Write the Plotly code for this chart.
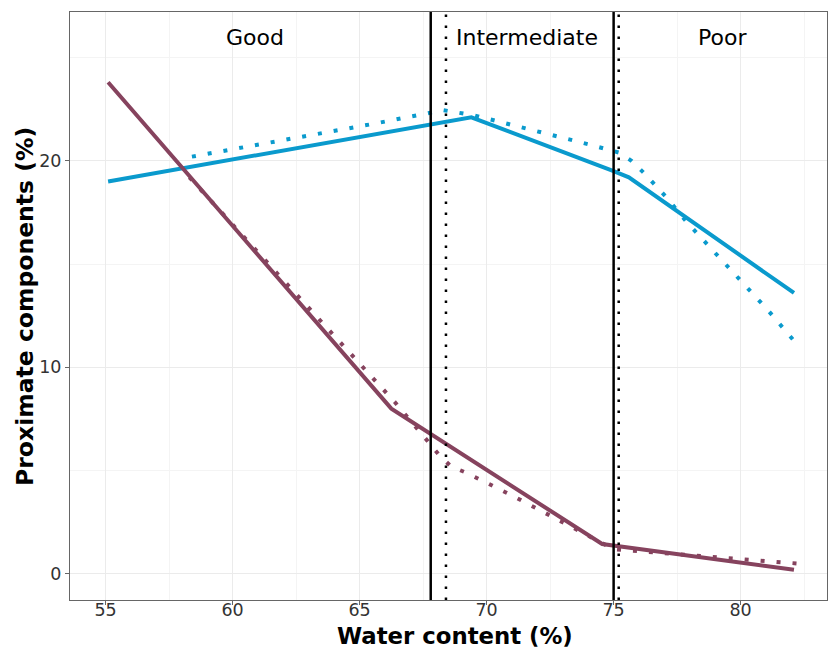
import plotly.graph_objects as go

# --- data ---
blue_solid_x = [55.1, 69.4, 75.0, 75.6, 82.1]
blue_solid_y = [19.0, 22.1, 19.5, 19.2, 13.6]

blue_dot_x = [58.4, 65.6, 68.3, 69.5, 74.0, 75.2, 75.7, 76.2, 77.1, 77.9, 78.8, 79.7, 81.05, 82.3]
blue_dot_y = [20.2, 21.8, 22.45, 22.2, 20.8, 20.4, 20.0, 19.4, 18.2, 17.0, 15.8, 14.6, 12.8, 11.0]

maroon_solid_x = [55.1, 66.25, 74.55, 82.1]
maroon_solid_y = [23.8, 8.0, 1.45, 0.2]

maroon_dot_x = [58.3, 66.4, 67.7, 68.1, 68.6, 69.2, 71.0, 72.7, 73.9, 75.0, 82.3]
maroon_dot_y = [19.2, 8.3, 6.4, 5.8, 5.2, 4.9, 3.8, 2.7, 1.9, 1.2, 0.5]

solid_vlines = [67.8, 75.0]
dotted_vlines = [68.4, 75.2]

zone_labels = ["Good", "Intermediate", "Poor"]
zone_label_x = [60.9, 71.6, 79.3]
zone_label_y = 25.95

x_ticks = [55, 60, 65, 70, 75, 80]
y_ticks = [0, 10, 20]

x_title = "Water content (%)"
y_title = "Proximate components (%)"

BLUE = "#0A9ACD"
MAROON = "#86435E"
FONT = "DejaVu Sans"

fig = go.Figure()

fig.add_trace(go.Scatter(x=blue_dot_x, y=blue_dot_y, mode="lines",
                         line=dict(color=BLUE, width=4, dash="4px,12px"),
                         showlegend=False, hoverinfo="skip"))
fig.add_trace(go.Scatter(x=maroon_dot_x, y=maroon_dot_y, mode="lines",
                         line=dict(color=MAROON, width=4, dash="4px,12px"),
                         showlegend=False, hoverinfo="skip"))
fig.add_trace(go.Scatter(x=blue_solid_x, y=blue_solid_y, mode="lines",
                         line=dict(color=BLUE, width=4),
                         showlegend=False))
fig.add_trace(go.Scatter(x=maroon_solid_x, y=maroon_solid_y, mode="lines",
                         line=dict(color=MAROON, width=4),
                         showlegend=False))

for xv in solid_vlines:
    fig.add_shape(type="line", x0=xv, x1=xv, y0=0, y1=1, xref="x", yref="paper",
                  line=dict(color="black", width=2.5))
for xv in dotted_vlines:
    fig.add_shape(type="line", x0=xv, x1=xv, y0=0, y1=1, xref="x", yref="paper",
                  line=dict(color="black", width=2.5, dash="2.5px,8.5px"))

for lab, xv in zip(zone_labels, zone_label_x):
    fig.add_annotation(x=xv, y=zone_label_y, text=lab, showarrow=False,
                       font=dict(family=FONT, size=22, color="black"),
                       xanchor="center", yanchor="middle")

# axis titles as annotations for precise placement
fig.add_annotation(x=0.5086, y=-0.0612, xref="paper", yref="paper",
                   text="<b>" + x_title + "</b>", showarrow=False,
                   font=dict(family=FONT, size=22.8, color="black"),
                   xanchor="center", yanchor="middle", borderpad=0)
fig.add_annotation(x=-0.0595, y=0.5, xref="paper", yref="paper",
                   text="<b>" + y_title + "</b>", showarrow=False, textangle=-90,
                   font=dict(family=FONT, size=23.5, color="black"),
                   xanchor="center", yanchor="middle")

fig.update_layout(
    width=828, height=651,
    margin=dict(l=70, r=1, t=12, b=51),
    plot_bgcolor="white", paper_bgcolor="white",
    font=dict(family=FONT, color="black"),
)

fig.update_xaxes(
    range=[53.6, 83.4], tickvals=x_ticks, ticktext=[str(v) for v in x_ticks],
    tickfont=dict(family=FONT, size=17.5, color="#333333"),
    ticks="outside", ticklen=4, tickcolor="#666666",
    ticklabelstandoff=-10,
    showgrid=True, gridcolor="#EBEBEB", gridwidth=1,
    minor=dict(dtick=2.5, tick0=52.5, showgrid=True, gridcolor="#F4F4F4", gridwidth=0.6),
    showline=True, linecolor="#666666", linewidth=1, mirror=True,
    zeroline=False,
)
fig.update_yaxes(
    range=[-1.26, 27.2], tickvals=y_ticks, ticktext=[str(v) for v in y_ticks],
    tickfont=dict(family=FONT, size=17.5, color="#333333"),
    ticks="outside", ticklen=4, tickcolor="#666666",
    showgrid=True, gridcolor="#EBEBEB", gridwidth=1,
    minor=dict(dtick=5, tick0=5, showgrid=True, gridcolor="#F4F4F4", gridwidth=0.6),
    showline=True, linecolor="#666666", linewidth=1, mirror=True,
    zeroline=False,
)

fig.write_html("out.html")
